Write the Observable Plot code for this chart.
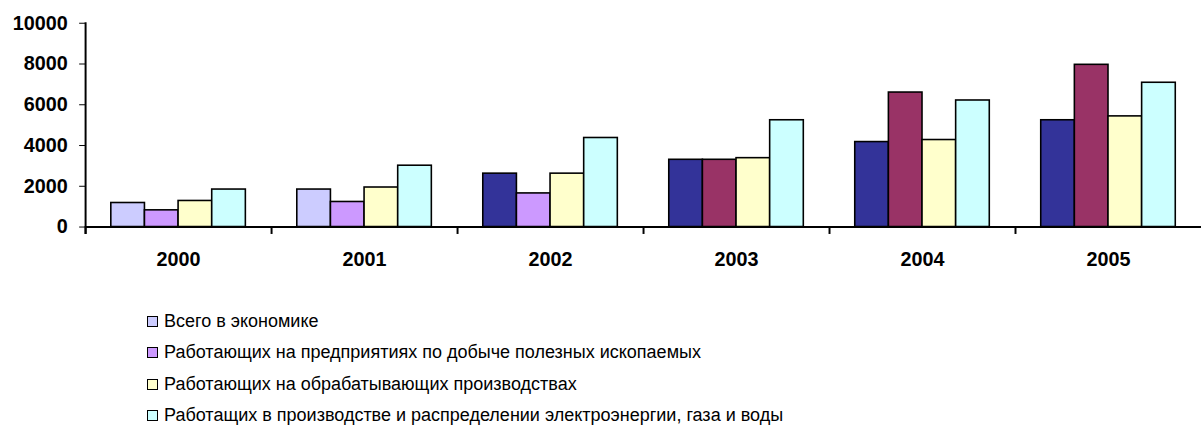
<!DOCTYPE html>
<html>
<head>
<meta charset="utf-8">
<script src="https://cdn.jsdelivr.net/npm/d3@7"></script>
<script src="https://cdn.jsdelivr.net/npm/@observablehq/plot@0.6"></script>
<style>
  html, body { margin: 0; padding: 0; background: #fff; overflow: hidden; }
  #chart svg { display: block; }
  .legend { margin-top: 9px; padding-left: 147px; font-family: "Liberation Sans Narrow", "Arial Narrow", "Liberation Sans", Arial, sans-serif; font-size: 18px; color: #000; }
  .legend .row { height: 31.3px; display: flex; align-items: center; }
  .legend .sw { width: 9px; height: 9px; border: 1.5px solid #000; margin-right: 6px; flex: none; }
</style>
</head>
<body>
<div id="chart"></div>
<div class="legend" id="legend"></div>
<script>
const years = ["2000", "2001", "2002", "2003", "2004", "2005"];
const seriesNames = [
  "Всего в экономике",
  "Работающих на предприятиях по добыче полезных ископаемых",
  "Работающих на обрабатывающих производствах",
  "Работащих в производстве и распределении электроэнергии, газа и воды"
];
const totalEconomy = [1180, 1840, 2620, 3300, 4170, 5240];
const mining = [820, 1230, 1650, 3300, 6600, 7960];
const manufacturing = [1280, 1940, 2620, 3380, 4270, 5430];
const utilities = [1840, 3010, 4370, 5240, 6210, 7080];
const yTicks = [0, 2000, 4000, 6000, 8000, 10000];

// per-bar fill colours (the original switches palette for some bars)
const legendColors = ["#CCCCFF", "#CC99FF", "#FFFFCC", "#CCFFFF"];
const barColors = [
  ["#CCCCFF", "#CCCCFF", "#333399", "#333399", "#333399", "#333399"],
  ["#CC99FF", "#CC99FF", "#CC99FF", "#993366", "#993366", "#993366"],
  ["#FFFFCC", "#FFFFCC", "#FFFFCC", "#FFFFCC", "#FFFFCC", "#FFFFCC"],
  ["#CCFFFF", "#CCFFFF", "#CCFFFF", "#CCFFFF", "#CCFFFF", "#CCFFFF"]
];

const seriesValues = [totalEconomy, mining, manufacturing, utilities];
const rows = [];
seriesNames.forEach((s, si) => {
  years.forEach((y, yi) => {
    rows.push({year: y, series: s, value: seriesValues[si][yi], color: barColors[si][yi]});
  });
});

const chart = Plot.plot({
  width: 1214,
  height: 300,
  marginLeft: 86,
  marginRight: 0,
  marginTop: 23,
  marginBottom: 71,
  style: {fontFamily: "'Liberation Sans', Arial, sans-serif", fontSize: "20px", fontWeight: "bold", color: "#000", background: "#fff"},
  fx: {domain: years, padding: 0, label: null, tickSize: 0, tickPadding: 25, axis: "bottom"},
  x: {domain: seriesNames, paddingInner: 0, paddingOuter: 0.72, axis: null},
  y: {domain: [0, 10000], ticks: yTicks, tickSize: 6, tickPadding: 12, tickFormat: d => String(d), label: null},
  color: {type: "identity"},
  marks: [
    Plot.barY(rows, {fx: "year", x: "series", y: "value", fill: "color", stroke: "#000", strokeWidth: 1.6, inset: 0}),
    Plot.ruleY([0], {stroke: "#000", strokeWidth: 2}),
    Plot.frame({anchor: "left", stroke: "#000", strokeWidth: 2, insetTop: 206, insetBottom: -6}),
    Plot.frame({anchor: "left", stroke: "#000", strokeWidth: 2, facet: "super", insetBottom: -6})
  ]
});
document.getElementById("chart").appendChild(chart);

const legend = document.getElementById("legend");
seriesNames.forEach((s, i) => {
  const row = document.createElement("div");
  row.className = "row";
  const sw = document.createElement("span");
  sw.className = "sw";
  sw.style.background = legendColors[i];
  const t = document.createElement("span");
  t.textContent = s;
  row.appendChild(sw);
  row.appendChild(t);
  legend.appendChild(row);
});
</script>
</body>
</html>
